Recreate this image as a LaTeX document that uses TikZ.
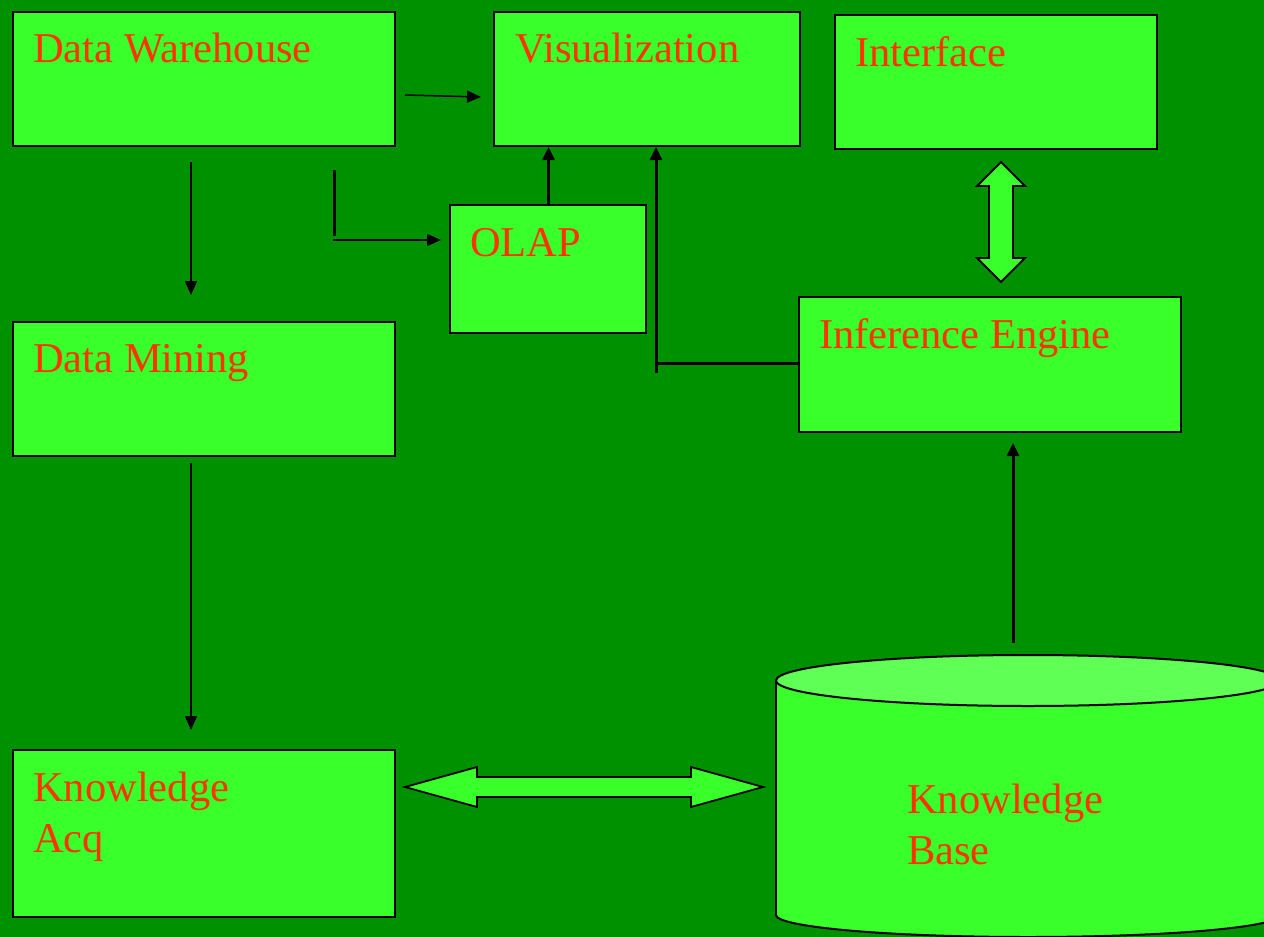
\documentclass[tikz,border=0pt]{standalone}
\usepackage{fontspec}
\setmainfont{Liberation Serif}
\usetikzlibrary{arrows.meta,shapes.geometric}
\definecolor{bggreen}{RGB}{0,145,0}
\definecolor{boxgreen}{RGB}{57,255,42}
\definecolor{topgreen}{RGB}{96,255,85}
\definecolor{txtred}{RGB}{255,51,0}
\tikzset{
  box/.style={draw=black, line width=2pt, fill=boxgreen, rectangle, anchor=north west, inner sep=0pt},
  lbl/.style={anchor=base west, inner sep=0pt, text=txtred, font=\fontsize{42.5}{51}\selectfont, align=left},
  thinarr/.style={line width=1.5pt, -{Triangle[length=14pt, width=12pt]}},
  thickarr/.style={line width=3pt, -{Triangle[length=13pt, width=12pt]}},
  thickln/.style={line width=3pt},
  fatarrow/.style={draw=black, line width=1.8pt, fill=boxgreen, line join=miter}
}
\begin{document}
\begin{tikzpicture}[x=1pt,y=-1pt]
\useasboundingbox (0,0) rectangle (1264,937);
\fill[bggreen] (0,0) rectangle (1264,937);
\clip (0,0) rectangle (1264,937);

% boxes
\node[box, minimum width=382, minimum height=134] (dw) at (12,11) {};
\node[box, minimum width=306, minimum height=134] (vis) at (493,11) {};
\node[box, minimum width=322, minimum height=134] (intf) at (834,14) {};
\node[box, minimum width=196, minimum height=128] (olap) at (449,204) {};
\node[box, minimum width=382, minimum height=134] (dm) at (12,321) {};
\node[box, minimum width=382, minimum height=135] (ie) at (798,296) {};
\node[box, minimum width=382, minimum height=167] (ka) at (12,749) {};

% cylinder (knowledge base)
\fill[boxgreen] (776,680) rectangle (1280,915);
\fill[boxgreen] (1028,915) ellipse[x radius=252, y radius=22];
\begin{scope}
  \clip (700,915) rectangle (1300,960);
  \draw[line width=2pt] (1028,915) ellipse[x radius=252, y radius=22];
\end{scope}
\draw[line width=2pt] (776,680) -- (776,915);
\node[draw=black, line width=2pt, fill=topgreen, ellipse, minimum width=504, minimum height=51, inner sep=0pt] (kb) at (1028,680.5) {};
\coordinate (kbtop) at (1013,643);

% labels
\node[lbl] (dwl) at (33,62) {Data Warehouse};
\node[lbl] (visl) at (515,62) {Visualization};
\node[lbl] (intfl) at (855,66) {Interface};
\node[lbl] (olapl) at (470,256) {OLAP};
\node[lbl] (dml) at (33,372) {Data Mining};
\node[lbl] (iel) at (819,348) {Inference Engine};
\node[lbl] (kal) at (33,852) {Knowledge\\Acq};
\node[lbl] (kbl) at (907,864) {Knowledge\\Base};

% connectors
\coordinate (a1s) at (405,95);
\coordinate (a1e) at (481,97);
\draw[thinarr] (a1s) -- (a1e);

\coordinate (a2s) at (191,162);
\coordinate (a2e) at (191,295);
\draw[thinarr] (a2s) -- (a2e);

\coordinate (a3a) at (334,170);
\coordinate (a3b) at (334,236);
\draw[thickln] (a3a) -- (a3b);
\coordinate (a3s) at (333,240);
\coordinate (a3e) at (441,240);
\draw[thinarr] (a3s) -- (a3e);

\coordinate (a4s) at (548.5,204);
\draw[thickarr] (olap.north -| a4s) -- (vis.south -| a4s);

\coordinate (a5c) at (656,363);
\coordinate (a5b) at (656,373);
\draw[thickln] (ie.west |- a5c) -- (a5c);
\draw[thickarr] (a5b) -- (vis.south -| a5b);

\coordinate (a6s) at (191,463);
\coordinate (a6e) at (191,730);
\draw[thinarr] (a6s) -- (a6e);

\coordinate (a7e) at (1013,443);
\draw[thickarr] (kbtop) -- (a7e);

% double arrow interface <-> inference engine
\coordinate (d1t) at (1001,162);
\coordinate (d1b) at (1001,282);
\draw[fatarrow] (d1t) -- (1025,186) -- (1013,186) -- (1013,258) -- (1025,258) -- (d1b)
  -- (977,258) -- (989,258) -- (989,186) -- (977,186) -- cycle;

% double arrow knowledge acq <-> knowledge base
\coordinate (d2l) at (405,787);
\coordinate (d2r) at (763,787);
\draw[fatarrow] (d2l) -- (477,767) -- (477,777) -- (691,777) -- (691,767) -- (d2r)
  -- (691,807) -- (691,797) -- (477,797) -- (477,807) -- cycle;
\end{tikzpicture}
\end{document}
